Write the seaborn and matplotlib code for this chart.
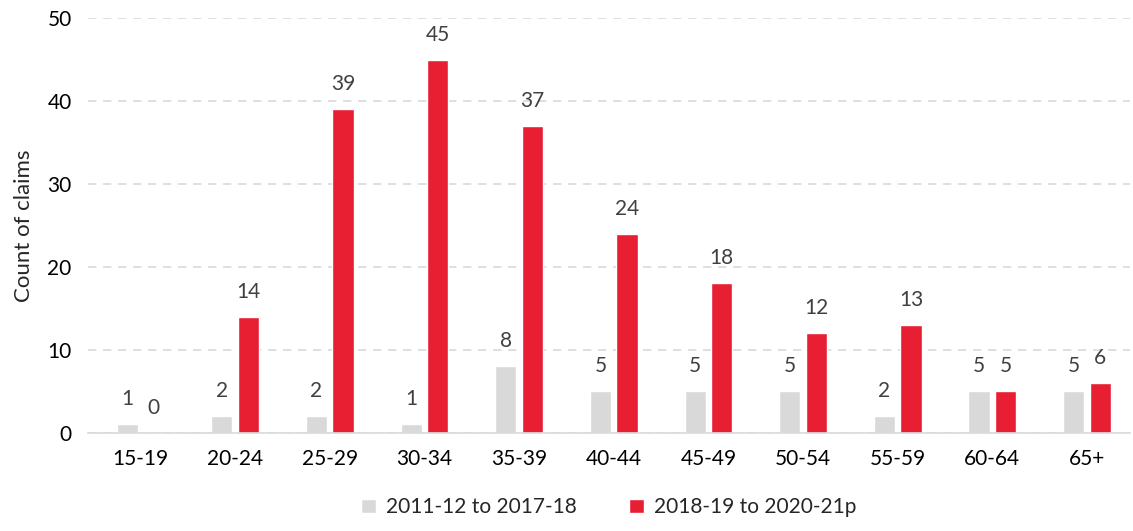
import matplotlib
matplotlib.use("Agg")
import matplotlib.pyplot as plt
import seaborn as sns
import pandas as pd

# Daten aus dem Diagramm
altersgruppen = ["15-19", "20-24", "25-29", "30-34", "35-39", "40-44",
                 "45-49", "50-54", "55-59", "60-64", "65+"]
zeitraum_alt = [1, 2, 2, 1, 8, 5, 5, 5, 2, 5, 5]
zeitraum_neu = [0, 14, 39, 45, 37, 24, 18, 12, 13, 5, 6]
serien = ["2011-12 to 2017-18", "2018-19 to 2020-21p"]
farben = ["#D9D9D9", "#E81F33"]

df = pd.DataFrame({
    "gruppe": altersgruppen * 2,
    "anzahl": zeitraum_alt + zeitraum_neu,
    "serie": [serien[0]] * len(altersgruppen) + [serien[1]] * len(altersgruppen),
})

sns.set_theme(style="white")
plt.rcParams["font.family"] = ["Lato", "DejaVu Sans"]

fig = plt.figure(figsize=(11.33, 5.31), dpi=100)
ax = fig.add_axes([0.078, 0.185, 0.919, 0.781])

sns.barplot(data=df, x="gruppe", y="anzahl", hue="serie", order=altersgruppen,
            hue_order=serien, palette=farben, width=0.56, gap=0.2,
            saturation=1, ax=ax, legend=True)

ax.set_ylim(0, 50)
ax.set_xlim(-0.55, 10.45)
ax.set_yticks(range(0, 51, 10))
ax.yaxis.grid(True, color="#D9D9D9", linestyle=(0, (5, 4)), linewidth=1.2)
ax.set_axisbelow(True)
for s in ["top", "right", "left"]:
    ax.spines[s].set_visible(False)
ax.spines["bottom"].set_color("#D9D9D9")
ax.spines["bottom"].set_linewidth(1.2)
ax.tick_params(axis="both", length=0, labelsize=15, colors="black", pad=12)
ax.set_xlabel("")
ax.set_ylabel("Count of claims", fontsize=16, labelpad=10)

# Werte ueber den Balken
for cont in ax.containers:
    for bar in cont:
        h = bar.get_height()
        ax.annotate(f"{h:.0f}", (bar.get_x() + bar.get_width() / 2, h),
                    xytext=(0, 18), textcoords="offset points",
                    ha="center", va="center", fontsize=15, color="#404040")

ax.legend(loc="upper center", bbox_to_anchor=(0.5, -0.125), ncol=2,
          frameon=False, fontsize=15, handlelength=0.7, handleheight=0.7,
          columnspacing=2.5, handletextpad=0.5, borderaxespad=0.2)

plt.savefig("out.png", dpi=100)
plt.close("all")
